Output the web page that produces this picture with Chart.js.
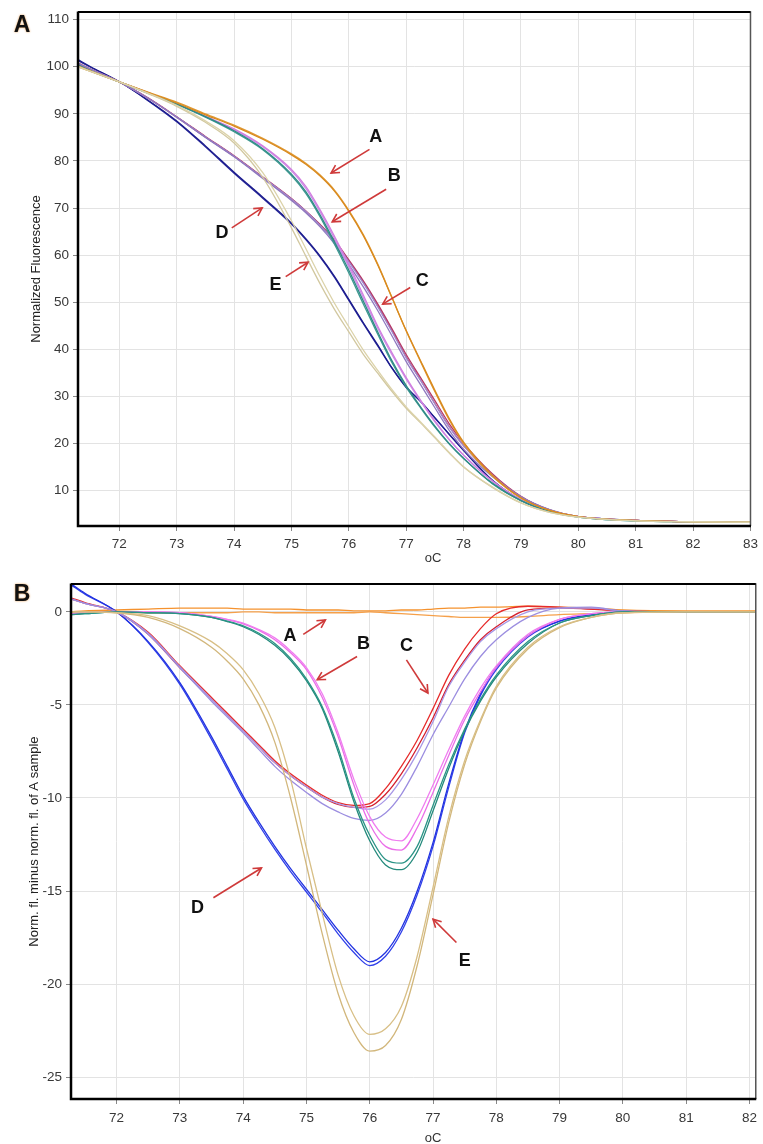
<!DOCTYPE html>
<html><head><meta charset="utf-8">
<script src="https://cdn.jsdelivr.net/npm/chart.js@4.4.1/dist/chart.umd.min.js"></script>
<style>
html,body{margin:0;padding:0;background:#fff;}
#wrap{position:relative;width:763px;height:1144px;overflow:hidden;background:#fff;}
canvas{position:absolute;left:0;}
</style></head><body>
<div id="wrap">
<canvas id="cA" width="763" height="572" style="top:0;width:763px;height:572px"></canvas>
<canvas id="cB" width="763" height="572" style="top:572px;width:763px;height:572px"></canvas>
</div>
<script>
// ---------- Panel A: normalized fluorescence ----------
const tempsA = [71.28, 71.5, 72, 72.5, 73, 73.5, 74, 74.5, 75, 75.25, 75.5, 75.75, 76, 76.25, 76.5, 76.75, 77, 77.25, 77.5, 77.75, 78, 78.5, 79, 79.5, 80, 81, 82, 83];
const xTicksA = [72, 73, 74, 75, 76, 77, 78, 79, 80, 81, 82, 83];
const yTicksA = [10, 20, 30, 40, 50, 60, 70, 80, 90, 100, 110];

const fluoA_1 = [100.0, 99.0, 96.8, 94.5, 92.3, 89.8, 87.4, 84.6, 81.3, 79.3, 76.8, 73.6, 69.3, 64.2, 58.0, 51.0, 44.0, 37.6, 31.3, 25.3, 20.3, 13.3, 8.5, 5.8, 4.5, 3.7, 3.4, 3.3];
const fluoA_2 = [100.2, 99.1, 96.8, 94.6, 92.5, 90.0, 87.6, 84.8, 81.5, 79.5, 77.0, 73.8, 69.5, 64.4, 58.2, 51.1, 43.9, 37.4, 31.0, 25.0, 20.0, 13.1, 8.4, 5.8, 4.5, 3.7, 3.4, 3.3];
const fluoB_teal1 = [100.4, 99.2, 96.8, 94.4, 92.1, 89.4, 86.4, 82.6, 77.2, 73.5, 68.5, 62.8, 56.8, 50.3, 43.8, 37.6, 32.3, 27.8, 23.7, 20.0, 16.9, 11.6, 7.9, 5.6, 4.4, 3.6, 3.4, 3.3];
const fluoB_teal2 = [100.3, 99.1, 96.8, 94.4, 92.0, 89.3, 86.2, 82.4, 76.9, 73.1, 68.1, 62.3, 56.2, 49.7, 43.3, 37.2, 32.0, 27.6, 23.5, 19.9, 16.8, 11.5, 7.9, 5.6, 4.4, 3.6, 3.4, 3.3];
const fluoB_pink1 = [100.3, 99.2, 96.8, 94.5, 92.2, 89.5, 86.8, 83.2, 78.2, 74.6, 69.6, 64.0, 58.0, 51.6, 45.0, 39.3, 34.0, 29.2, 24.8, 20.9, 17.6, 12.1, 8.1, 5.7, 4.5, 3.7, 3.4, 3.3];
const fluoB_pink2 = [100.2, 99.1, 96.8, 94.5, 92.1, 89.4, 86.6, 83.0, 77.9, 74.2, 69.2, 63.5, 57.5, 51.0, 44.6, 38.9, 33.7, 29.0, 24.6, 20.8, 17.5, 12.0, 8.1, 5.7, 4.5, 3.7, 3.4, 3.3];
const fluoC_red1 = [100.8, 99.5, 96.8, 93.4, 89.4, 85.2, 81.1, 76.6, 72.0, 69.4, 66.5, 63.2, 59.0, 54.6, 49.7, 44.4, 38.9, 34.0, 29.1, 24.2, 20.1, 13.6, 8.8, 5.9, 4.5, 3.7, 3.4, 3.3];
const fluoC_red2 = [100.7, 99.4, 96.8, 93.3, 89.3, 85.1, 81.0, 76.5, 71.9, 69.3, 66.4, 63.0, 58.8, 54.3, 49.3, 44.0, 38.4, 33.5, 28.5, 23.6, 19.6, 13.4, 8.7, 5.9, 4.5, 3.7, 3.4, 3.3];
const fluoC_lav1 = [100.7, 99.5, 96.8, 93.3, 89.3, 85.0, 80.9, 76.3, 71.6, 69.0, 66.0, 62.4, 58.0, 53.3, 48.3, 42.9, 37.4, 32.5, 27.6, 22.8, 18.8, 13.0, 8.7, 6.0, 4.5, 3.7, 3.4, 3.3];
const fluoC_lav2 = [100.6, 99.4, 96.8, 93.3, 89.3, 85.1, 81.0, 76.5, 71.9, 69.3, 66.3, 62.9, 58.6, 54.1, 49.1, 43.8, 38.2, 33.4, 28.4, 23.5, 19.5, 13.3, 8.7, 5.9, 4.5, 3.7, 3.4, 3.3];
const fluoD_1 = [101.5, 100.0, 96.8, 92.9, 88.5, 83.2, 77.6, 72.3, 66.8, 63.5, 59.8, 55.5, 50.6, 45.7, 41.0, 36.1, 32.0, 29.0, 25.5, 22.0, 18.6, 12.2, 8.0, 5.6, 4.5, 3.7, 3.4, 3.3];
const fluoD_2 = [101.3, 99.9, 96.8, 92.8, 88.3, 83.0, 77.4, 72.1, 66.6, 63.3, 59.6, 55.3, 50.4, 45.5, 40.8, 36.0, 31.9, 28.9, 25.4, 21.9, 18.5, 12.2, 8.0, 5.6, 4.5, 3.7, 3.4, 3.3];
const fluoE_1 = [100.0, 99.0, 96.8, 94.4, 91.8, 88.5, 84.3, 77.5, 67.3, 61.4, 55.4, 49.8, 44.8, 39.9, 35.6, 31.5, 27.8, 24.6, 21.4, 18.1, 15.1, 10.8, 7.4, 5.4, 4.4, 3.6, 3.4, 3.3];
const fluoE_2 = [100.1, 99.0, 96.8, 94.3, 91.6, 88.2, 83.8, 76.5, 65.8, 59.8, 53.9, 48.5, 43.7, 39.0, 35.0, 31.1, 27.5, 24.4, 21.2, 18.0, 15.0, 10.7, 7.4, 5.4, 4.4, 3.6, 3.4, 3.3];

// ---------- Panel B: difference vs sample A ----------
const tempsB = [71.28, 71.5, 72, 72.5, 73, 73.5, 73.75, 74, 74.25, 74.5, 74.75, 75, 75.25, 75.5, 75.75, 76, 76.25, 76.5, 76.75, 77, 77.25, 77.5, 77.75, 78, 78.5, 79, 79.5, 80, 81, 82.1];
const xTicksB = [72, 73, 74, 75, 76, 77, 78, 79, 80, 81, 82];
const yTicksB = [-25, -20, -15, -10, -5, 0];

const diffA_1 = [0.0, 0.05, 0.1, 0.15, 0.2, 0.2, 0.2, 0.15, 0.15, 0.15, 0.15, 0.1, 0.1, 0.1, 0.05, 0.05, 0.05, 0.1, 0.1, 0.15, 0.2, 0.2, 0.25, 0.25, 0.3, 0.25, 0.2, 0.1, 0.05, 0.05];
const diffA_2 = [0.0, 0.0, 0.0, -0.05, -0.05, -0.05, -0.05, 0.0, 0.0, -0.05, -0.05, -0.05, -0.05, -0.05, -0.05, 0.0, -0.05, -0.1, -0.15, -0.2, -0.25, -0.3, -0.3, -0.3, -0.25, -0.15, -0.1, -0.05, 0.0, 0.0];
const diffB_teal1 = [-0.15, -0.1, 0.0, -0.05, -0.1, -0.3, -0.5, -0.75, -1.15, -1.7, -2.5, -3.6, -5.1, -7.3, -10.0, -12.0, -13.3, -13.5, -12.6, -10.4, -8.2, -6.3, -4.7, -3.4, -1.6, -0.6, -0.2, 0.0, 0.0, 0.0];
const diffB_teal2 = [-0.15, -0.1, 0.0, -0.05, -0.1, -0.3, -0.52, -0.8, -1.22, -1.8, -2.6, -3.7, -5.2, -7.5, -10.2, -12.3, -13.6, -13.85, -12.9, -10.7, -8.4, -6.4, -4.8, -3.5, -1.7, -0.6, -0.2, 0.0, 0.0, 0.0];
const diffB_pink1 = [-0.1, -0.05, 0.0, 0.0, -0.05, -0.25, -0.4, -0.6, -0.95, -1.4, -2.1, -3.0, -4.4, -6.5, -9.0, -11.0, -12.1, -12.3, -11.1, -9.3, -7.4, -5.6, -4.1, -2.9, -1.2, -0.4, -0.1, 0.0, 0.0, 0.0];
const diffB_pink2 = [-0.1, -0.05, 0.0, 0.0, -0.05, -0.25, -0.42, -0.65, -1.0, -1.5, -2.2, -3.1, -4.6, -6.7, -9.3, -11.4, -12.6, -12.8, -11.6, -9.7, -7.7, -5.8, -4.3, -3.0, -1.3, -0.4, -0.1, 0.0, 0.0, 0.0];
const diffC_red1 = [0.75, 0.5, 0.0, -1.1, -2.9, -4.6, -5.45, -6.3, -7.15, -8.0, -8.7, -9.3, -9.85, -10.25, -10.4, -10.3, -9.5, -8.3, -6.9, -5.2, -3.4, -2.0, -0.9, -0.1, 0.3, 0.25, 0.15, 0.05, 0.0, 0.0];
const diffC_red2 = [0.7, 0.45, 0.0, -1.2, -3.0, -4.7, -5.55, -6.4, -7.25, -8.1, -8.8, -9.4, -9.95, -10.35, -10.5, -10.45, -9.8, -8.7, -7.3, -5.7, -3.9, -2.6, -1.5, -0.8, 0.1, 0.2, 0.15, 0.05, 0.0, 0.0];
const diffC_lav1 = [0.7, 0.45, 0.0, -1.2, -3.0, -4.8, -5.65, -6.5, -7.4, -8.3, -9.05, -9.7, -10.3, -10.75, -11.1, -11.2, -10.8, -9.8, -8.3, -6.6, -5.1, -3.6, -2.4, -1.5, -0.3, 0.2, 0.25, 0.05, 0.0, 0.0];
const diffC_lav2 = [0.7, 0.45, 0.0, -1.15, -2.95, -4.7, -5.55, -6.4, -7.25, -8.1, -8.8, -9.4, -9.95, -10.3, -10.5, -10.6, -10.1, -9.0, -7.6, -5.9, -4.0, -2.7, -1.6, -0.9, 0.0, 0.2, 0.2, 0.05, 0.0, 0.0];
const diffD_1 = [1.5, 1.0, 0.0, -1.6, -3.8, -6.7, -8.3, -9.9, -11.3, -12.6, -13.8, -14.9, -16.0, -17.1, -18.1, -18.8, -18.3, -17.0, -15.0, -12.4, -9.2, -6.4, -4.4, -3.0, -1.3, -0.5, -0.15, 0.0, 0.0, 0.0];
const diffD_2 = [1.45, 0.95, 0.0, -1.65, -3.9, -6.85, -8.45, -10.05, -11.45, -12.75, -13.95, -15.05, -16.15, -17.3, -18.3, -19.0, -18.5, -17.2, -15.2, -12.6, -9.4, -6.5, -4.5, -3.1, -1.35, -0.5, -0.15, 0.0, 0.0, 0.0];
const diffE_1 = [0.0, 0.0, -0.05, -0.2, -0.75, -1.6, -2.25, -3.1, -4.4, -6.2, -9.0, -12.7, -16.2, -19.5, -21.7, -22.7, -22.4, -21.2, -18.5, -14.8, -11.0, -8.0, -5.8, -4.0, -1.9, -0.8, -0.3, -0.05, 0.0, 0.0];
const diffE_2 = [0.0, 0.0, -0.05, -0.3, -0.9, -1.9, -2.65, -3.6, -5.0, -7.0, -10.0, -13.6, -17.3, -20.5, -22.6, -23.6, -23.3, -21.9, -19.0, -15.2, -11.3, -8.2, -5.9, -4.1, -2.0, -0.85, -0.3, -0.05, 0.0, 0.0];

// annotation labels (data units)
const labelsA = [
  {text:'A', x:76.47, y:85.05, from:[76.36,82.45], to:[75.69,77.44]},
  {text:'B', x:76.79, y:76.8,  from:[76.65,74.0],  to:[75.71,67.08]},
  {text:'C', x:77.28, y:54.55, from:[77.07,53.13], to:[76.59,49.6]},
  {text:'D', x:73.79, y:64.76, from:[73.96,65.8],  to:[74.49,70.04]},
  {text:'E', x:74.72, y:53.7,  from:[74.90,55.45], to:[75.29,58.5]}
];
const labelsB = [
  {text:'A', x:74.74, y:-1.30,  from:[74.95,-1.21],  to:[75.30,-0.44]},
  {text:'B', x:75.90, y:-1.75,  from:[75.80,-2.40],  to:[75.17,-3.65]},
  {text:'C', x:76.58, y:-1.83,  from:[76.58,-2.58],  to:[76.92,-4.36]},
  {text:'D', x:73.28, y:-15.9,  from:[73.53,-15.36], to:[74.29,-13.76]},
  {text:'E', x:77.50, y:-18.74, from:[77.37,-17.76], to:[77.00,-16.51]}
];

const seriesA = [
  {v:fluoE_1, c:'#dcd3aa'}, {v:fluoE_2, c:'#d2c8a0'},
  {v:fluoA_1, c:'#d98a1e'}, {v:fluoA_2, c:'#e09a35'},
  {v:fluoB_teal1, c:'#2f8a86'}, {v:fluoB_teal2, c:'#3f9a92'},
  {v:fluoB_pink1, c:'#d27ee0'}, {v:fluoB_pink2, c:'#c890e6'},
  {v:fluoC_lav1, c:'#8f79c0'}, {v:fluoC_lav2, c:'#a08ad0'},
  {v:fluoC_red1, c:'#b33a68'}, {v:fluoC_red2, c:'#c04870'},
  {v:fluoD_1, c:'#1c1c8e'}, {v:fluoD_2, c:'#2a2a9a'}
];
const seriesB = [
  {v:diffE_1, c:'#d8bf86'}, {v:diffE_2, c:'#d2b77c'},
  {v:diffB_teal1, c:'#2a9486'}, {v:diffB_teal2, c:'#248a7c'},
  {v:diffB_pink1, c:'#f07cf0'}, {v:diffB_pink2, c:'#ea6ee8'},
  {v:diffC_lav1, c:'#9c8ee0'}, {v:diffC_lav2, c:'#a898e6'},
  {v:diffC_red1, c:'#e62b2b'}, {v:diffC_red2, c:'#d42030'},
  {v:diffD_1, c:'#2233e0'}, {v:diffD_2, c:'#3040ea'},
  {v:diffA_1, c:'#f5922e'}, {v:diffA_2, c:'#f5a04a'}
];

const FONT = "'Liberation Sans', Arial, sans-serif";

const decorPlugin = {
  id: 'decor',
  afterDatasetsDraw(chart, args, opts) {
    const {ctx, chartArea: a, scales} = chart;
    ctx.save();
    ctx.strokeStyle = '#555';
    ctx.lineWidth = 1.5;
    ctx.beginPath();
    ctx.moveTo(a.left, a.top); ctx.lineTo(a.right, a.top); ctx.lineTo(a.right, a.bottom);
    ctx.stroke();
    ctx.strokeStyle = '#000';
    ctx.lineWidth = 2.5;
    ctx.beginPath();
    ctx.moveTo(a.left, a.top - 0.5); ctx.lineTo(a.left, a.bottom); ctx.lineTo(a.right + 0.5, a.bottom);
    ctx.stroke();
    ctx.lineWidth = 2;
    ctx.beginPath(); ctx.moveTo(a.left, a.top); ctx.lineTo(a.right, a.top); ctx.stroke();
    const xs = scales.x, ys = scales.y;
    opts.labels.forEach(l => {
      const x0 = xs.getPixelForValue(l.from[0]), y0 = ys.getPixelForValue(l.from[1]);
      const x1 = xs.getPixelForValue(l.to[0]), y1 = ys.getPixelForValue(l.to[1]);
      ctx.strokeStyle = '#cf3a3a';
      ctx.lineWidth = 1.6;
      ctx.beginPath(); ctx.moveTo(x0, y0); ctx.lineTo(x1, y1); ctx.stroke();
      const ang = Math.atan2(y1 - y0, x1 - x0), hl = 9, ha = 0.5;
      ctx.beginPath();
      ctx.moveTo(x1 - hl * Math.cos(ang - ha), y1 - hl * Math.sin(ang - ha));
      ctx.lineTo(x1, y1);
      ctx.lineTo(x1 - hl * Math.cos(ang + ha), y1 - hl * Math.sin(ang + ha));
      ctx.stroke();
      ctx.fillStyle = '#111';
      ctx.font = 'bold 18px ' + FONT;
      ctx.textAlign = 'center'; ctx.textBaseline = 'middle';
      ctx.fillText(l.text, xs.getPixelForValue(l.x), ys.getPixelForValue(l.y));
    });
    ctx.fillStyle = '#333';
    ctx.font = '13px ' + FONT;
    ctx.textAlign = 'center'; ctx.textBaseline = 'middle';
    ctx.fillText(opts.xTitle, opts.xTitlePos[0], opts.xTitlePos[1]);
    ctx.font = 'bold 23px ' + FONT;
    ctx.shadowColor = 'rgba(225,135,40,0.9)';
    ctx.shadowBlur = 2;
    ctx.fillStyle = '#111';
    ctx.fillText(opts.panel, opts.panelPos[0], opts.panelPos[1]);
    ctx.restore();
  }
};

function makeChart(id, cfg) {
  const datasets = cfg.series.map(s => ({
    data: cfg.temps.map((t, i) => ({x: t, y: s.v[i]})),
    borderColor: s.c, borderWidth: 1.3, pointRadius: 0, fill: false,
    cubicInterpolationMode: 'monotone'
  }));
  return new Chart(document.getElementById(id), {
    type: 'line',
    data: {datasets},
    options: {
      responsive: false, animation: false, devicePixelRatio: 1,
      layout: {padding: {top: cfg.padTop, right: cfg.padRight, left: 0, bottom: 0}},
      plugins: {legend: {display: false}, tooltip: {enabled: false},
        decor: {labels: cfg.labels, xTitle: 'oC', xTitlePos: cfg.xTitlePos, panel: cfg.panel, panelPos: cfg.panelPos}},
      scales: {
        x: {
          type: 'linear', min: cfg.xMin, max: cfg.xMax,
          afterBuildTicks: s => { s.ticks = cfg.xTicks.map(v => ({value: v})); },
          afterFit: s => { s.height = cfg.xAxisH; },
          grid: {color: '#e3e3e3', lineWidth: 1, tickColor: '#888', tickLength: 5, drawTicks: true},
          border: {display: false},
          ticks: {autoSkip: false, maxRotation: 0, padding: cfg.xTickPad, color: '#383838', font: {family: FONT, size: 13.5}, callback: v => String(v)}
        },
        y: {
          type: 'linear', min: cfg.yMin, max: cfg.yMax,
          afterBuildTicks: s => { s.ticks = cfg.yTicks.map(v => ({value: v})); },
          afterFit: s => { s.width = cfg.yAxisW; },
          grid: {color: '#e3e3e3', lineWidth: 1, tickColor: '#888', tickLength: 5, drawTicks: true},
          border: {display: false},
          ticks: {padding: 4, color: '#383838', font: {family: FONT, size: 13.5}, callback: v => String(v)},
          title: {display: true, text: cfg.yTitle, color: '#222', font: {family: FONT, size: 13}, padding: {top: cfg.yTitlePad, bottom: 0}}
        }
      }
    },
    plugins: [decorPlugin]
  });
}

makeChart('cA', {
  temps: tempsA, series: seriesA, labels: labelsA,
  xMin: 71.28, xMax: 83, yMin: 2.5, yMax: 111.6,
  xTicks: xTicksA, yTicks: yTicksA,
  padTop: 9, padRight: 7, xAxisH: 46, yAxisW: 78, xTickPad: 5,
  yTitle: 'Normalized Fluorescence', yTitlePad: 29,
  xTitlePos: [433, 558], panel: 'A', panelPos: [22, 26]
});
makeChart('cB', {
  temps: tempsB, series: seriesB, labels: labelsB,
  xMin: 71.28, xMax: 82.1, yMin: -26.17, yMax: 1.49,
  xTicks: xTicksB, yTicks: yTicksB,
  padTop: 9, padRight: 6, xAxisH: 45, yAxisW: 71, xTickPad: 6,
  yTitle: 'Norm. fl. minus norm. fl. of A sample', yTitlePad: 27,
  xTitlePos: [433, 566], panel: 'B', panelPos: [22, 23]
});
</script>
</body></html>
